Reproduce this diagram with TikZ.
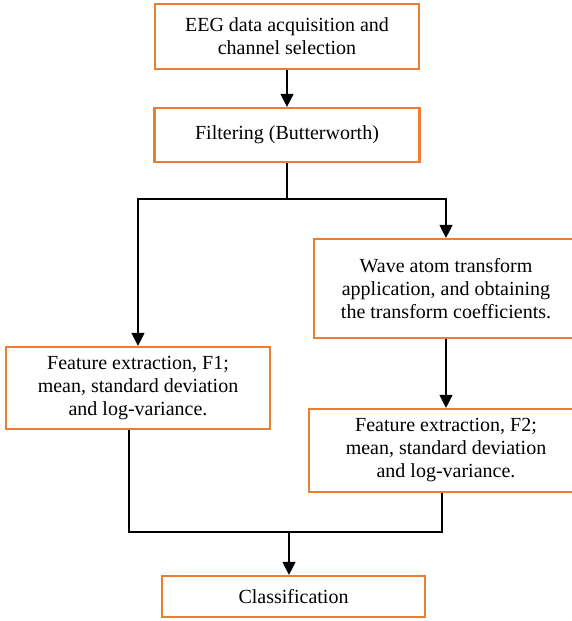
\documentclass[tikz,border=0pt]{standalone}
\usepackage{fontspec}
\setmainfont{Liberation Serif}
\usetikzlibrary{arrows.meta}
\usetikzlibrary{positioning}
\definecolor{boxorange}{RGB}{237,125,49}
\tikzset{
stepbox/.style={rectangle,draw=boxorange,line width=2.2pt,align=center,font=\fontsize{20}{23}\selectfont,inner sep=0pt}
}
\tikzset{
link/.style={draw=black,line width=1.3pt}
}
\tikzset{
arrow/.style={link,-{Triangle[width=13pt,length=13pt]}}
}

\begin{document}
\begin{tikzpicture}[x=1pt,y=-1pt]
\useasboundingbox[fill=white] (0,0) rectangle (572,621);

\node[stepbox,minimum width=264pt,minimum height=65pt] (eeg) at (287,36.5) {EEG data acquisition and\\channel selection};
\node[stepbox,minimum width=265pt,minimum height=54pt] (filt) at (287,135) {Filtering (Butterworth)};
%------------------------------------------------------------------------------------------------------------%
\node[stepbox,minimum width=264pt,minimum height=99pt] (wave) at (446,288.5) {Wave atom transform\\application, and obtaining\\the transform coefficients.};
\node[stepbox,minimum width=264pt,minimum height=82pt] (f1) at (138,388) {Feature extraction, F1;\\mean, standard deviation\\and log-variance.};
\node[stepbox,minimum width=274pt,minimum height=83pt] (f2) at (446,450.5) {Feature extraction, F2;\\mean, standard deviation\\and log-variance.};
%------------------------------------------------------------------------------------------------------------%
\node[stepbox,minimum width=263pt,minimum height=41pt] (cls) at (293.5,596.5) {Classification};

\coordinate (split) at (287,199);
\coordinate (joinL) at (129,532);
\coordinate (joinR) at (442,532);
\coordinate (merge) at (289,532);

\draw[arrow] (eeg) -- (filt);
\draw[link] (filt.south) -- (split);
\draw[arrow] (split) -| (f1.north);
\draw[arrow] (split) -| (wave.north);
\draw[arrow] (wave) -- (f2);
%------------------------------------------------------------------------------------------------------------%
\draw[link] (f1.south -| joinL) -- (joinL) -- (joinR) -- (f2.south -| joinR);
\draw[arrow] (merge) -- (merge |- cls.north);

\end{tikzpicture}
\end{document}
